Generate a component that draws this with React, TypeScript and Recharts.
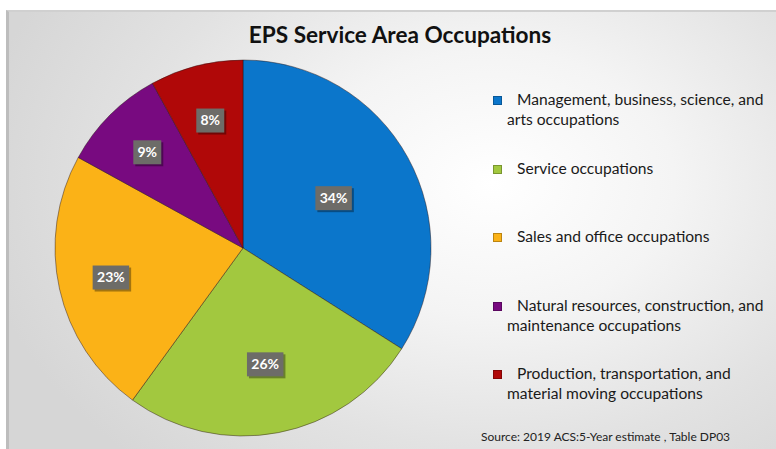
import React from "react";
import { PieChart, Pie, Cell } from "recharts";

const categories = [
  "Management, business, science, and arts occupations",
  "Service occupations",
  "Sales and office occupations",
  "Natural resources, construction, and maintenance occupations",
  "Production, transportation, and material moving occupations",
];
const shares = [34, 26, 23, 9, 8];
const colors = ["#0b76cb", "#a2c83f", "#fbb217", "#780a80", "#b00808"];
const labelRadiusFactors = [0.55, 0.63, 0.72, 0.72, 0.7];

const TITLE = "EPS Service Area Occupations";
const SOURCE = "Source: 2019 ACS:5-Year estimate , Table DP03";

const data = categories.map((name, i) => ({ name, value: shares[i] }));

const RAD = Math.PI / 180;
const FONT = "Lato, 'Noto Sans', sans-serif";

const renderLabel = (props: any) => {
  const { cx, cy, midAngle, outerRadius, value, index } = props;
  const r = outerRadius * labelRadiusFactors[index];
  const x = cx + r * Math.cos(-midAngle * RAD);
  const y = cy + r * Math.sin(-midAngle * RAD);
  const text = `${value}%`;
  const w = text.length * 8.5 + 11;
  const h = 24;
  return (
    <g>
      <rect x={x - w / 2 + 2} y={y - h / 2 + 2} width={w} height={h} fill="rgba(0,0,0,0.35)" />
      <rect x={x - w / 2} y={y - h / 2} width={w} height={h} fill="#6d6c68" />
      <text
        x={x}
        y={y + 1}
        textAnchor="middle"
        dominantBaseline="middle"
        fill="#ffffff"
        fontFamily={FONT}
        fontWeight={700}
        fontSize={14}
      >
        {text}
      </text>
    </g>
  );
};

const LegendBlock = () => (
  <div
    style={{
      position: "absolute",
      left: 493,
      top: 89,
      fontFamily: FONT,
      fontSize: 15.6,
      color: "#1a1a1a",
      lineHeight: "20px",
    }}
  >
    {categories.map((name, i) => (
      <div
        key={name}
        style={{
          height: 68.5,
          paddingLeft: 14,
          textIndent: -14,
          width: 262,
        }}
      >
        <span
          style={{
            display: "inline-block",
            width: 9,
            height: 9,
            background: colors[i],
            border: "1px solid rgba(0,0,0,0.25)",
            boxSizing: "border-box",
            marginRight: 15,
            verticalAlign: "0px",
            textIndent: 0,
          }}
        />
        {name}
      </div>
    ))}
  </div>
);

export default function App() {
  return (
    <div style={{ position: "absolute", left: 0, top: 0, width: 776, height: 449, background: "#ffffff", overflow: "hidden" }}>
      <div
        style={{
          position: "absolute",
          left: 6,
          top: 10,
          width: 780,
          height: 450,
          borderLeft: "3px solid #bdbdbd",
          borderTop: "2px solid #d0d0d0",
          background:
            "radial-gradient(ellipse 520px 380px at 62% 38%, #ffffff 0%, #f4f4f4 35%, #e2e2e2 70%, #d6d6d6 100%)",
        }}
      />
      <div
        style={{
          position: "absolute",
          left: 0,
          top: 21,
          width: 800,
          textAlign: "center",
          fontFamily: FONT,
          fontWeight: 700,
          fontSize: 22.6,
          color: "#111",
        }}
      >
        {TITLE}
      </div>
      <div style={{ position: "absolute", left: 0, top: 0 }}>
        <PieChart width={776} height={449}>
          <Pie
            data={data}
            dataKey="value"
            nameKey="name"
            cx={238}
            cy={243}
            outerRadius={188}
            startAngle={90}
            endAngle={-270}
            stroke="rgba(40,20,20,0.45)"
            strokeWidth={1}
            label={renderLabel}
            labelLine={false}
            isAnimationActive={false}
          >
            {data.map((d, i) => (
              <Cell key={d.name} fill={colors[i]} />
            ))}
          </Pie>
        </PieChart>
      </div>
      <LegendBlock />
      <div
        style={{
          position: "absolute",
          left: 481,
          top: 429,
          fontFamily: FONT,
          fontSize: 12,
          color: "#222",
          whiteSpace: "nowrap",
        }}
      >
        {SOURCE}
      </div>
    </div>
  );
}
